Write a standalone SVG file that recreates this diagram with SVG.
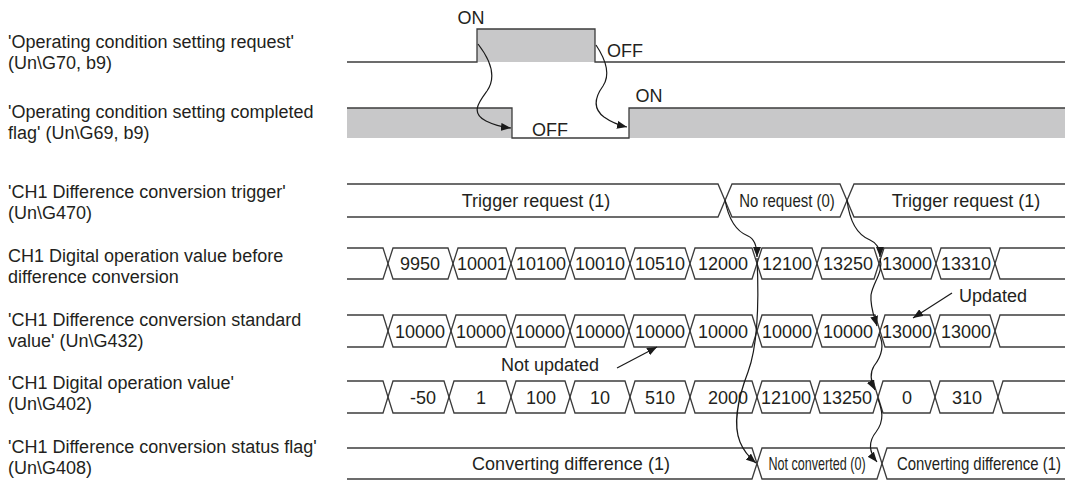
<svg xmlns="http://www.w3.org/2000/svg" width="1069" height="486" viewBox="0 0 1069 486">
<defs>
<marker id="ah" viewBox="0 0 10 8" refX="10" refY="4" markerWidth="10" markerHeight="8" markerUnits="userSpaceOnUse" orient="auto">
<path d="M0,0 L10,4 L0,8 z" fill="#1a1a1a"/>
</marker>
</defs>
<style>
text{font-family:"Liberation Sans",Arial,sans-serif;font-size:18px;fill:#231f20}
.ln{fill:none;stroke:#3c3c3c;stroke-width:1.3}
.fill{fill:#c8c8c9}
.c{text-anchor:middle}
.ar{fill:none;stroke:#1a1a1a;stroke-width:1.2;marker-end:url(#ah)}
</style>
<rect width="1069" height="486" fill="#ffffff"/>

<g id="labels">
<text x="8" y="48">'Operating condition setting request'</text>
<text x="8" y="69">(Un\G70, b9)</text>
<text x="8" y="118">'Operating condition setting completed</text>
<text x="8" y="139">flag' (Un\G69, b9)</text>
<text x="8" y="198">'CH1 Difference conversion trigger'</text>
<text x="8" y="219">(Un\G470)</text>
<text x="8" y="262">CH1 Digital operation value before</text>
<text x="8" y="283">difference conversion</text>
<text x="8" y="326">'CH1 Difference conversion standard</text>
<text x="8" y="347">value' (Un\G432)</text>
<text x="8" y="389">'CH1 Digital operation value'</text>
<text x="8" y="410">(Un\G402)</text>
<text x="8" y="453">'CH1 Difference conversion status flag'</text>
<text x="8" y="474">(Un\G408)</text>
</g>

<g id="sig-request">
<rect class="fill" x="477" y="29" width="118" height="33"/>
<path class="ln" d="M347,62 H477 V29 H595 V62 H1065"/>
<text x="471" y="24" class="c">ON</text>
<text x="607" y="57">OFF</text>
</g>

<g id="sig-completed">
<rect class="fill" x="347" y="108" width="165" height="30"/>
<rect class="fill" x="629" y="108" width="436" height="30"/>
<path class="ln" d="M347,108 H512 V138 H629 V108 H1065"/>
<text x="550" y="136" class="c">OFF</text>
<text x="649" y="102" class="c">ON</text>
</g>

<g id="sig-trigger">
<path class="ln" d="M347,184 H718 L732,217 H840 L854,184 H1065"/>
<path class="ln" d="M347,217 H718 L732,184 H840 L854,217 H1065"/>
<text x="536" y="207" class="c">Trigger request (1)</text>
<text class="c" transform="translate(787,207) scale(0.83,1)">No request (0)</text>
<text x="966" y="207" class="c">Trigger request (1)</text>
</g>

<g id="sig-before">
<path class="ln" d="M347,248 H383 L393,279 H448 L458,248 H506 L516,279 H565 L575,248 H625 L635,279 H685 L695,248 H752 L762,279 H812 L822,248 H874 L884,279 H931 L941,248 H990 L1000,279 H1065"/>
<path class="ln" d="M347,279 H383 L393,248 H448 L458,279 H506 L516,248 H565 L575,279 H625 L635,248 H685 L695,279 H752 L762,248 H812 L822,279 H874 L884,248 H931 L941,279 H990 L1000,248 H1065"/>
<text x="420" y="270" class="c">9950</text>
<text x="482" y="270" class="c">10001</text>
<text x="541" y="270" class="c">10100</text>
<text x="600" y="270" class="c">10010</text>
<text x="660" y="270" class="c">10510</text>
<text x="723" y="270" class="c">12000</text>
<text x="787" y="270" class="c">12100</text>
<text x="848" y="270" class="c">13250</text>
<text x="907" y="270" class="c">13000</text>
<text x="966" y="270" class="c">13310</text>
</g>

<g id="sig-standard">
<path class="ln" d="M347,315 H383 L393,347 H446 L456,315 H506 L516,347 H565 L575,315 H624 L634,347 H685 L695,315 H752 L762,347 H812 L822,315 H875 L885,347 H930 L940,315 H990 L1000,347 H1065"/>
<path class="ln" d="M347,347 H383 L393,315 H446 L456,347 H506 L516,315 H565 L575,347 H624 L634,315 H685 L695,347 H752 L762,315 H812 L822,347 H875 L885,315 H930 L940,347 H990 L1000,315 H1065"/>
<text x="420" y="338" class="c">10000</text>
<text x="481" y="338" class="c">10000</text>
<text x="540" y="338" class="c">10000</text>
<text x="600" y="338" class="c">10000</text>
<text x="660" y="338" class="c">10000</text>
<text x="723" y="338" class="c">10000</text>
<text x="787" y="338" class="c">10000</text>
<text x="848" y="338" class="c">10000</text>
<text x="907" y="338" class="c">13000</text>
<text x="966" y="338" class="c">13000</text>
</g>

<g id="sig-value">
<path class="ln" d="M347,381 H383 L393,413 H444 L454,381 H506 L516,413 H565 L575,381 H625 L635,413 H685 L695,381 H752 L762,413 H810 L820,381 H873 L883,413 H930 L940,381 H993 L1003,413 H1065"/>
<path class="ln" d="M347,413 H383 L393,381 H444 L454,413 H506 L516,381 H565 L575,413 H625 L635,381 H685 L695,413 H752 L762,381 H810 L820,413 H873 L883,381 H930 L940,413 H993 L1003,381 H1065"/>
<text x="423" y="404" class="c">-50</text>
<text x="481" y="404" class="c">1</text>
<text x="541" y="404" class="c">100</text>
<text x="600" y="404" class="c">10</text>
<text x="660" y="404" class="c">510</text>
<text x="728" y="404" class="c">2000</text>
<text x="786" y="404" class="c">12100</text>
<text x="847" y="404" class="c">13250</text>
<text x="907" y="404" class="c">0</text>
<text x="967" y="404" class="c">310</text>
</g>

<g id="sig-status">
<path class="ln" d="M347,448 H752 L762,479 H877 L887,448 H1065"/>
<path class="ln" d="M347,479 H752 L762,448 H877 L887,479 H1065"/>
<text x="571" y="470" class="c">Converting difference (1)</text>
<text class="c" transform="translate(817,470) scale(0.70,1)">Not converted (0)</text>
<text class="c" transform="translate(979,470) scale(0.83,1)">Converting difference (1)</text>
</g>

<g id="annotations">
<text x="550" y="371" class="c">Not updated</text>
<text x="993" y="302" class="c">Updated</text>
</g>

<g id="connectors">
<path class="ar" d="M478,44 C492,62 496,78 487,91 C479,102 470,113 486,121 C494,125 502,127 511,128"/>
<path class="ar" d="M596,45 C606,60 611,74 603,86 C595,97 592,108 604,117 C611,122 618,125 627,127"/>
<path class="ar" d="M725,200 C729,222 738,232 748,236 C755,239 757,246 757,257"/>
<path class="ar" d="M757,258 C759,300 758,345 748,372 C738,398 733,425 740,442 C744,452 750,458 756,463"/>
<path class="ar" d="M847,200 C850,225 860,236 870,240 C877,243 880,248 880,257"/>
<path class="ar" d="M880,258 C884,272 873,282 871,295 C870,307 874,316 877,326"/>
<path class="ar" d="M879,334 C885,346 881,357 874,366 C869,374 871,382 875,390"/>
<path class="ar" d="M878,399 C882,410 885,420 876,432 C868,442 869,452 877,462"/>
<path class="ar" d="M617,368 L657,347"/>
<path class="ar" d="M952,293 L913,318"/>
</g>
</svg>
